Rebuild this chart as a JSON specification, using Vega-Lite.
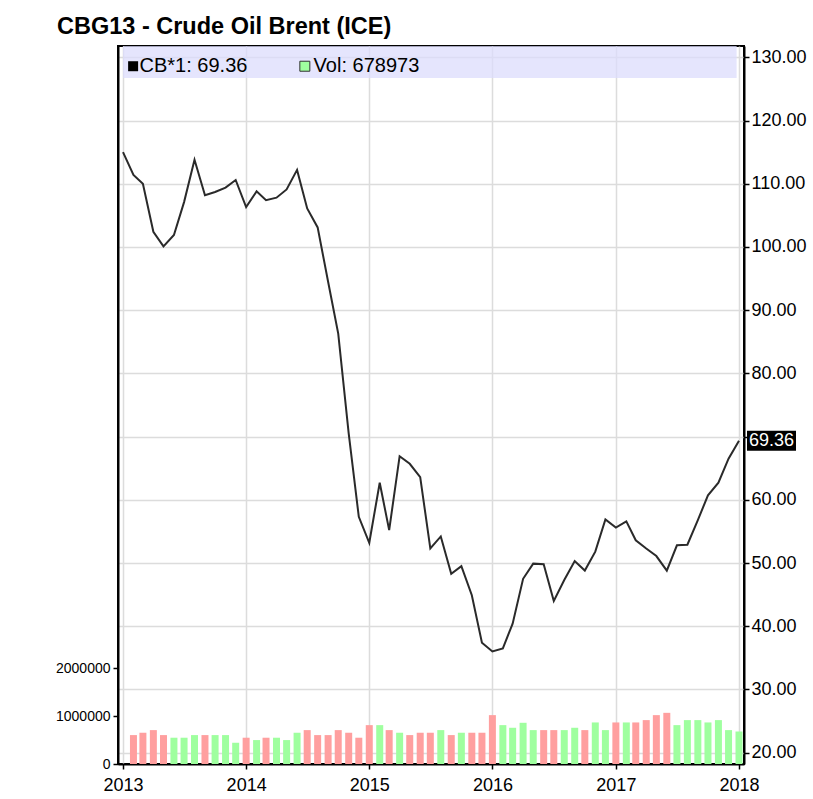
{
  "$schema": "https://vega.github.io/schema/vega-lite/v6.json",
  "width": 626,
  "height": 718,
  "autosize": "none",
  "padding": {"left": 118, "top": 46, "right": 69, "bottom": 35},
  "background": "white",
  "title": {"text": "CBG13 - Crude Oil Brent (ICE)", "anchor": "start", "frame": "group", "dx": -61, "offset": 8, "fontSize": 23.5, "fontWeight": "bold", "font": "Liberation Sans", "color": "#000"},
  "config": {
    "view": {"stroke": "#000", "strokeWidth": 2},
    "axis": {"labelFont": "Liberation Sans", "labelFontSize": 18, "labelColor": "#000", "tickColor": "#000", "domainColor": "#000", "domainWidth": 2, "tickSize": 5, "tickWidth": 1.5, "gridColor": "#dcdcdc", "gridWidth": 1.5, "title": null, "labelPadding": 3}
  },
  "data": {"values": [
    {"date": "2013-01-01", "price": 115.0, "volume": null, "dir": null},
    {"date": "2013-02-01", "price": 111.4, "volume": 604000, "dir": "down"},
    {"date": "2013-03-01", "price": 110.0, "volume": 653000, "dir": "down"},
    {"date": "2013-04-01", "price": 102.4, "volume": 708000, "dir": "down"},
    {"date": "2013-05-01", "price": 100.1, "volume": 604000, "dir": "down"},
    {"date": "2013-06-01", "price": 101.9, "volume": 549000, "dir": "up"},
    {"date": "2013-07-01", "price": 107.1, "volume": 549000, "dir": "up"},
    {"date": "2013-08-01", "price": 113.8, "volume": 604000, "dir": "up"},
    {"date": "2013-09-01", "price": 108.2, "volume": 604000, "dir": "down"},
    {"date": "2013-10-01", "price": 108.7, "volume": 604000, "dir": "up"},
    {"date": "2013-11-01", "price": 109.4, "volume": 604000, "dir": "up"},
    {"date": "2013-12-01", "price": 110.6, "volume": 444000, "dir": "up"},
    {"date": "2014-01-01", "price": 106.3, "volume": 549000, "dir": "down"},
    {"date": "2014-02-01", "price": 108.8, "volume": 500000, "dir": "up"},
    {"date": "2014-03-01", "price": 107.4, "volume": 549000, "dir": "down"},
    {"date": "2014-04-01", "price": 107.8, "volume": 549000, "dir": "up"},
    {"date": "2014-05-01", "price": 109.1, "volume": 500000, "dir": "up"},
    {"date": "2014-06-01", "price": 112.2, "volume": 653000, "dir": "up"},
    {"date": "2014-07-01", "price": 106.1, "volume": 708000, "dir": "down"},
    {"date": "2014-08-01", "price": 103.1, "volume": 604000, "dir": "down"},
    {"date": "2014-09-01", "price": 94.5, "volume": 604000, "dir": "down"},
    {"date": "2014-10-01", "price": 86.3, "volume": 708000, "dir": "down"},
    {"date": "2014-11-01", "price": 70.5, "volume": 653000, "dir": "down"},
    {"date": "2014-12-01", "price": 57.3, "volume": 549000, "dir": "down"},
    {"date": "2015-01-01", "price": 53.2, "volume": 812000, "dir": "down"},
    {"date": "2015-02-01", "price": 62.7, "volume": 812000, "dir": "up"},
    {"date": "2015-03-01", "price": 55.2, "volume": 708000, "dir": "down"},
    {"date": "2015-04-01", "price": 66.9, "volume": 653000, "dir": "up"},
    {"date": "2015-05-01", "price": 65.7, "volume": 604000, "dir": "down"},
    {"date": "2015-06-01", "price": 63.6, "volume": 653000, "dir": "down"},
    {"date": "2015-07-01", "price": 52.3, "volume": 653000, "dir": "down"},
    {"date": "2015-08-01", "price": 54.2, "volume": 708000, "dir": "up"},
    {"date": "2015-09-01", "price": 48.3, "volume": 604000, "dir": "down"},
    {"date": "2015-10-01", "price": 49.5, "volume": 653000, "dir": "up"},
    {"date": "2015-11-01", "price": 44.9, "volume": 653000, "dir": "down"},
    {"date": "2015-12-01", "price": 37.4, "volume": 653000, "dir": "down"},
    {"date": "2016-01-01", "price": 36.0, "volume": 1021000, "dir": "down"},
    {"date": "2016-02-01", "price": 36.5, "volume": 812000, "dir": "up"},
    {"date": "2016-03-01", "price": 40.4, "volume": 757000, "dir": "up"},
    {"date": "2016-04-01", "price": 47.5, "volume": 861000, "dir": "up"},
    {"date": "2016-05-01", "price": 49.9, "volume": 708000, "dir": "up"},
    {"date": "2016-06-01", "price": 49.8, "volume": 708000, "dir": "down"},
    {"date": "2016-07-01", "price": 44.0, "volume": 708000, "dir": "down"},
    {"date": "2016-08-01", "price": 47.3, "volume": 708000, "dir": "up"},
    {"date": "2016-09-01", "price": 50.3, "volume": 757000, "dir": "up"},
    {"date": "2016-10-01", "price": 48.8, "volume": 708000, "dir": "down"},
    {"date": "2016-11-01", "price": 51.8, "volume": 868000, "dir": "up"},
    {"date": "2016-12-01", "price": 56.9, "volume": 708000, "dir": "up"},
    {"date": "2017-01-01", "price": 55.6, "volume": 868000, "dir": "down"},
    {"date": "2017-02-01", "price": 56.6, "volume": 868000, "dir": "up"},
    {"date": "2017-03-01", "price": 53.6, "volume": 868000, "dir": "down"},
    {"date": "2017-04-01", "price": 52.3, "volume": 917000, "dir": "down"},
    {"date": "2017-05-01", "price": 51.1, "volume": 1021000, "dir": "down"},
    {"date": "2017-06-01", "price": 48.8, "volume": 1069000, "dir": "down"},
    {"date": "2017-07-01", "price": 52.8, "volume": 812000, "dir": "up"},
    {"date": "2017-08-01", "price": 52.9, "volume": 917000, "dir": "up"},
    {"date": "2017-09-01", "price": 56.8, "volume": 917000, "dir": "up"},
    {"date": "2017-10-01", "price": 60.7, "volume": 868000, "dir": "up"},
    {"date": "2017-11-01", "price": 62.7, "volume": 917000, "dir": "up"},
    {"date": "2017-12-01", "price": 66.5, "volume": 708000, "dir": "up"},
    {"date": "2018-01-01", "price": 69.36, "volume": 678973, "dir": "up"}
  ]},
  "layer": [
    {
      "data": {"values": [{}]},
      "mark": {"type": "rect", "color": "#dcdcfc", "opacity": 0.75},
      "encoding": {
        "x": {"datum": {"year": 2013, "month": 1, "date": 1, "utc": true}, "type": "temporal", "scale": {"type": "utc", "domain": [{"year": 2013, "month": 1, "date": 1, "utc": true}, {"year": 2018, "month": 1, "date": 1, "utc": true}]}},
        "x2": {"datum": {"year": 2017, "month": 12, "date": 25, "utc": true}},
        "y": {"datum": 131.8, "type": "quantitative", "scale": {"domain": [18.2, 131.8], "nice": false, "zero": false}, "axis": null},
        "y2": {"datum": 126.75}
      }
    },
    {
      "mark": {"type": "bar", "size": 7, "clip": true},
      "encoding": {
        "x": {"field": "date", "type": "temporal", "scale": {"type": "utc", "domain": [{"year": 2013, "month": 1, "date": 1, "utc": true}, {"year": 2018, "month": 1, "date": 1, "utc": true}]},
          "axis": {"format": "%Y", "tickCount": {"interval": "year", "step": 1}, "grid": true, "labelFlush": false, "labelOverlap": false, "labelPadding": 7}},
        "y": {"field": "volume", "type": "quantitative", "scale": {"domain": [0, 15000000], "nice": false}, "axis": {"orient": "left", "values": [0, 1000000, 2000000], "format": "d", "grid": false, "labelFontSize": 14}},
        "color": {"field": "dir", "type": "nominal", "scale": {"domain": ["down", "up"], "range": ["#ff9f9f", "#9fff9f"]}, "legend": null}
      }
    },
    {
      "mark": {"type": "line", "color": "#2a2a2a", "strokeWidth": 2},
      "encoding": {
        "x": {"field": "date", "type": "temporal"},
        "y": {"field": "price", "type": "quantitative", "scale": {"domain": [18.2, 131.8], "nice": false, "zero": false}, "axis": {"orient": "right", "values": [20, 30, 40, 50, 60, 70, 80, 90, 100, 110, 120, 130], "format": ".2f", "labelExpr": "datum.value == 70 ? '' : datum.label", "grid": true, "labelPadding": 2}}
      }
    },
    {
      "data": {"values": [{}]},
      "mark": {"type": "point", "shape": "square", "filled": true, "color": "#000", "size": 100, "opacity": 1},
      "encoding": {
        "x": {"datum": {"year": 2013, "month": 1, "date": 31, "utc": true}, "type": "temporal"},
        "y": {"datum": 128.6, "type": "quantitative", "scale": {"domain": [18.2, 131.8], "nice": false, "zero": false}, "axis": null}
      }
    },
    {
      "data": {"values": [{}]},
      "mark": {"type": "point", "shape": "square", "filled": true, "fill": "#9fff9f", "stroke": "#333", "strokeWidth": 1, "size": 100, "opacity": 1},
      "encoding": {
        "x": {"datum": {"year": 2014, "month": 6, "date": 24, "utc": true}, "type": "temporal"},
        "y": {"datum": 128.6, "type": "quantitative", "scale": {"domain": [18.2, 131.8], "nice": false, "zero": false}, "axis": null}
      }
    },
    {
      "data": {"values": [{}]},
      "mark": {"type": "text", "text": "CB*1: 69.36", "align": "left", "baseline": "middle", "font": "Liberation Sans", "fontSize": 20, "color": "#000"},
      "encoding": {
        "x": {"datum": {"year": 2013, "month": 2, "date": 19, "utc": true}, "type": "temporal"},
        "y": {"datum": 128.6, "type": "quantitative", "scale": {"domain": [18.2, 131.8], "nice": false, "zero": false}, "axis": null}
      }
    },
    {
      "data": {"values": [{}]},
      "mark": {"type": "text", "text": "Vol: 678973", "align": "left", "baseline": "middle", "font": "Liberation Sans", "fontSize": 20, "color": "#000"},
      "encoding": {
        "x": {"datum": {"year": 2014, "month": 7, "date": 20, "utc": true}, "type": "temporal"},
        "y": {"datum": 128.6, "type": "quantitative", "scale": {"domain": [18.2, 131.8], "nice": false, "zero": false}, "axis": null}
      }
    },
    {
      "transform": [{"filter": "datum.price == 69.36"}],
      "mark": {"type": "point", "shape": "M0.8,-1L5.7,-1L5.7,1L0.8,1Z", "filled": true, "color": "#000", "size": 400, "opacity": 1, "clip": false},
      "encoding": {
        "x": {"field": "date", "type": "temporal"},
        "y": {"field": "price", "type": "quantitative", "scale": {"domain": [18.2, 131.8], "nice": false, "zero": false}, "axis": null}
      }
    },
    {
      "transform": [{"filter": "datum.price == 69.36"}],
      "mark": {"type": "text", "align": "left", "baseline": "middle", "dx": 10, "font": "Liberation Sans", "fontSize": 18, "color": "#fff"},
      "encoding": {
        "x": {"field": "date", "type": "temporal"},
        "y": {"field": "price", "type": "quantitative", "scale": {"domain": [18.2, 131.8], "nice": false, "zero": false}, "axis": null},
        "text": {"field": "price", "type": "quantitative", "format": ".2f"}
      }
    }
  ],
  "resolve": {"scale": {"y": "independent"}}
}
